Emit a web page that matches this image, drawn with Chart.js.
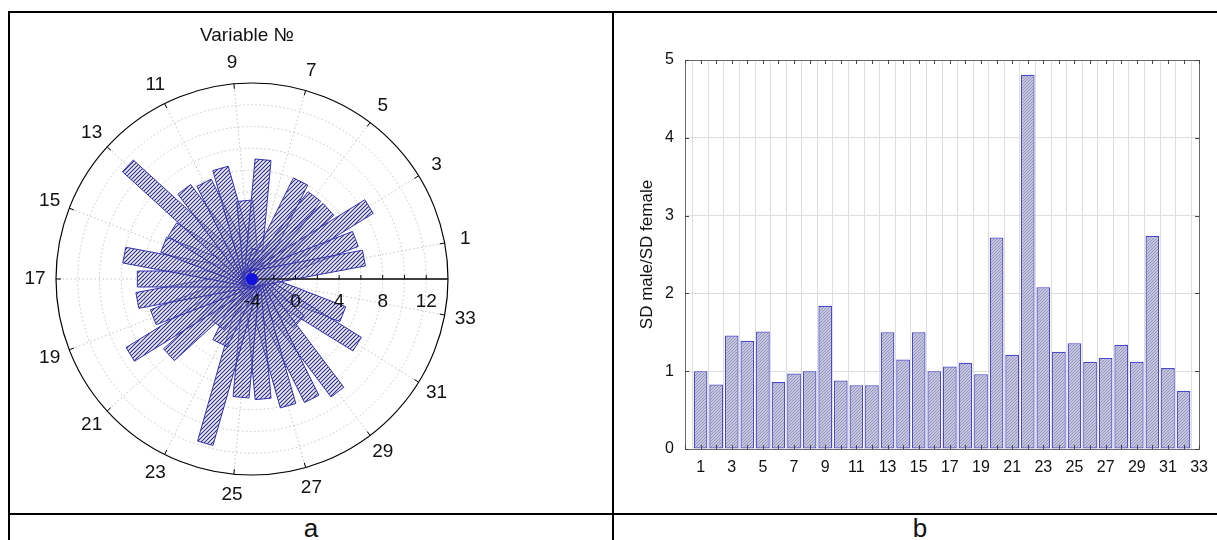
<!DOCTYPE html>
<html>
<head>
<meta charset="utf-8">
<script src="https://cdn.jsdelivr.net/npm/chart.js@4.4.0/dist/chart.umd.min.js"></script>
<style>
  html, body { margin: 0; padding: 0; background: #fff; }
  #wrap { position: relative; width: 1217px; height: 540px; overflow: hidden; background: #fff; font-family: "Liberation Sans", Arial, sans-serif; }
  .ln { position: absolute; background: #000; }
  .txt { position: absolute; color: #111; white-space: nowrap; }
  canvas { position: absolute; }
</style>
</head>
<body>
<div id="wrap">
  <div class="ln" style="left:8px;top:11px;width:1209px;height:2px"></div>
  <div class="ln" style="left:8px;top:11px;width:2px;height:529px"></div>
  <div class="ln" style="left:612px;top:11px;width:2px;height:529px"></div>
  <div class="ln" style="left:8px;top:513px;width:1209px;height:2px"></div>
  <canvas id="polar" width="602" height="500" style="left:10px;top:13px;width:602px;height:500px"></canvas>
  <canvas id="bars" width="603" height="500" style="left:614px;top:13px;width:603px;height:500px"></canvas>
  <div class="txt" style="left:10px;width:474px;top:24px;text-align:center;font-size:19px;line-height:22px">Variable №</div>
  <div class="txt" style="left:10px;width:602px;top:515px;text-align:center;font-size:26px;line-height:26px">a</div>
  <div class="txt" style="left:614px;width:612px;top:515px;text-align:center;font-size:26px;line-height:26px">b</div>
</div>
<script>
// ---------- data ----------
const polarVariables = [1, 2, 3, 4, 5, 6, 7, 8, 9, 10, 11, 12, 13, 14, 15, 16, 17,
                        18, 19, 20, 21, 22, 23, 24, 25, 26, 27, 28, 29, 30, 31, 32, 33];
const polarValues = [6.46, 6.18, 8.64, 5.5, 5.5, 6.0, -1.3, 7.0, 3.22, 6.56, 5.87, 6.32, 11.42,
                     4.6, 4.7, 7.93, 6.53, 6.71, 5.72, 9.15, 6.32, 1.26, 2.59, 11.68, 6.91,
                     7.06, 8.1, 8.3, 9.02, 1.83, 7.36, 4.94, -2.0];
const polarTickLabels = [-4, 0, 4, 8, 12];
const polarTitle = 'Variable №';

const barCategories = [1, 2, 3, 4, 5, 6, 7, 8, 9, 10, 11, 12, 13, 14, 15, 16,
                       17, 18, 19, 20, 21, 22, 23, 24, 25, 26, 27, 28, 29, 30, 31, 32];
const barValues = [1.0, 0.83, 1.46, 1.39, 1.51, 0.86, 0.97, 1.0, 1.84, 0.88, 0.82, 0.82,
                   1.5, 1.15, 1.5, 1.0, 1.06, 1.11, 0.96, 2.72, 1.21, 4.81, 2.08, 1.25,
                   1.36, 1.12, 1.17, 1.34, 1.12, 2.74, 1.04, 0.75];
const barTickLabels = [1, 3, 5, 7, 9, 11, 13, 15, 17, 19, 21, 23, 25, 27, 29, 31, 33];
const barYTitle = 'SD male/SD female';

// ---------- helpers ----------
const FONT = '"Liberation Sans", Arial, sans-serif';
function hatch(bg, fg, size, lw) {
  const c = document.createElement('canvas');
  c.width = c.height = size;
  const x = c.getContext('2d');
  if (bg) { x.fillStyle = bg; x.fillRect(0, 0, size, size); }
  x.strokeStyle = fg; x.lineWidth = lw;
  x.beginPath();
  x.moveTo(0, size); x.lineTo(size, 0);
  x.moveTo(-1, 1); x.lineTo(1, -1);
  x.moveTo(size - 1, size + 1); x.lineTo(size + 1, size - 1);
  x.stroke();
  return x.createPattern(c, 'repeat');
}

// ---------- polar (radar scale, bars drawn as rectangles from library points) ----------
// slot 0 sits on the horizontal axis; variable k sits at slot (34 - k)
const slotCount = polarVariables.length + 1;
const polarLabels = [''];
const polarData = [null];
for (let i = polarVariables.length - 1; i >= 0; i--) {
  polarLabels.push(String(polarVariables[i]));
  polarData.push(polarValues[i]);
}
const polarHatch = hatch('rgba(210,210,236,0.4)', '#2c2c82', 4, 1.05);
const OUTER = 14;

const polarDecor = {
  id: 'polarDecor',
  afterDatasetsDraw(chart) {
    const ctx = chart.ctx, r = chart.scales.r, meta = chart.getDatasetMeta(0);
    const cx = r.xCenter, cy = r.yCenter, hw = 8;
    ctx.save();
    meta.data.forEach((pt) => {
      if (pt.skip || isNaN(pt.x) || isNaN(pt.y)) return;
      const dx = pt.x - cx, dy = pt.y - cy, len = Math.hypot(dx, dy);
      if (len < 0.5) return;
      const nx = -dy / len * hw, ny = dx / len * hw;
      ctx.beginPath();
      ctx.moveTo(cx + nx, cy + ny);
      ctx.lineTo(pt.x + nx, pt.y + ny);
      ctx.lineTo(pt.x - nx, pt.y - ny);
      ctx.lineTo(cx - nx, cy - ny);
      ctx.closePath();
      ctx.fillStyle = polarHatch;
      ctx.fill();
      ctx.lineWidth = 1;
      ctx.strokeStyle = '#3434b0';
      ctx.stroke();
    });
    // axis line along slot 0
    const R = r.getDistanceFromCenterForValue(OUTER);
    ctx.strokeStyle = '#000';
    ctx.lineWidth = 1.2;
    ctx.beginPath();
    ctx.moveTo(cx, cy); ctx.lineTo(cx + R, cy);
    ctx.stroke();
    // axis ticks every 2 units
    ctx.lineWidth = 1;
    r.ticks.forEach(t => {
      if (t.value <= r.min || t.value >= OUTER) return;
      const d = r.getDistanceFromCenterForValue(t.value);
      ctx.beginPath();
      ctx.moveTo(cx + d, cy); ctx.lineTo(cx + d, cy - 4);
      ctx.stroke();
    });
    // center blob
    ctx.fillStyle = '#1212e0';
    ctx.beginPath(); ctx.arc(cx, cy, 6, 0, Math.PI * 2); ctx.fill();
    // radial tick labels
    ctx.fillStyle = '#111';
    ctx.font = '19px ' + FONT;
    ctx.textAlign = 'center';
    ctx.textBaseline = 'middle';
    polarTickLabels.forEach(v => {
      const d = r.getDistanceFromCenterForValue(v);
      ctx.fillText(String(v), cx + d, cy + 23);
    });
    // outer ticks and variable labels (odd variables)
    polarVariables.forEach(k => {
      if (k % 2 === 0) return;
      const idx = (slotCount - k) % slotCount;
      const p1 = r.getPointPosition(idx, R);
      const p0 = r.getPointPosition(idx, R - 5);
      ctx.strokeStyle = '#000';
      ctx.beginPath(); ctx.moveTo(p0.x, p0.y); ctx.lineTo(p1.x, p1.y); ctx.stroke();
      const pl = r.getPointPosition(idx, R + 21);
      ctx.fillText(String(k), pl.x, pl.y);
    });
    ctx.restore();
  }
};

new Chart(document.getElementById('polar'), {
  type: 'radar',
  data: {
    labels: polarLabels,
    datasets: [{
      label: polarTitle,
      data: polarData,
      showLine: false,
      fill: false,
      borderWidth: 0,
      pointRadius: 0,
      pointHoverRadius: 0,
      spanGaps: false
    }]
  },
  options: {
    responsive: false,
    animation: false,
    devicePixelRatio: 1,
    layout: { padding: { left: 46, top: 70, right: 164, bottom: 38 } },
    plugins: { legend: { display: false }, tooltip: { enabled: false }, title: { display: false } },
    scales: {
      r: {
        min: -4,
        max: OUTER,
        startAngle: 90,
        ticks: { display: false, stepSize: 2 },
        pointLabels: { display: false },
        grid: {
          circular: true,
          color: c => (c.tick && c.tick.value === OUTER) ? '#000' : '#c2c2c2',
          lineWidth: c => (c.tick && c.tick.value === OUTER) ? 1.2 : 1
        },
        border: { dash: c => (c.tick && c.tick.value === OUTER) ? [] : [1.5, 2.5] },
        angleLines: {
          display: true,
          color: c => c.index === 0 ? '#000' : '#c2c2c2',
          lineWidth: c => (c.index === 0 || c.index % 2 === 1) ? 1 : 0,
          borderDash: c => c.index === 0 ? [] : [1.5, 2.5]
        }
      }
    }
  },
  plugins: [polarDecor]
});

// ---------- bar chart ----------
const barHatch = hatch('#c6c6dc', '#9494c2', 3, 1);
const barDecor = {
  id: 'barDecor',
  afterDraw(chart) {
    const ctx = chart.ctx, a = chart.chartArea, xs = chart.scales.x, ys = chart.scales.y;
    ctx.save();
    ctx.strokeStyle = '#6a6a6a';
    ctx.lineWidth = 1;
    ctx.strokeRect(Math.round(a.left) + 0.5, Math.round(a.top) + 0.5,
                   Math.round(a.right - a.left), Math.round(a.bottom - a.top));
    ctx.strokeStyle = '#444';
    ctx.beginPath();
    xs.ticks.forEach(t => {
      const x = Math.round(xs.getPixelForValue(t.value)) + 0.5;
      ctx.moveTo(x, a.bottom); ctx.lineTo(x, a.bottom - 4);
      ctx.moveTo(x, a.top); ctx.lineTo(x, a.top + 4);
    });
    ys.ticks.forEach(t => {
      const y = Math.round(ys.getPixelForValue(t.value)) + 0.5;
      ctx.moveTo(a.left, y); ctx.lineTo(a.left + 4, y);
      ctx.moveTo(a.right, y); ctx.lineTo(a.right - 4, y);
    });
    ctx.stroke();
    ctx.restore();
  }
};

new Chart(document.getElementById('bars'), {
  type: 'bar',
  data: {
    datasets: [{
      label: barYTitle,
      data: barCategories.map((c, i) => ({ x: c, y: barValues[i] })),
      backgroundColor: barHatch,
      borderColor: '#4a4ac6',
      borderWidth: 1.3,
      borderSkipped: false,
      barPercentage: 0.88,
      categoryPercentage: 1.0
    }]
  },
  options: {
    responsive: false,
    animation: false,
    devicePixelRatio: 1,
    layout: { padding: { left: 0, top: 47, right: 13, bottom: 0 } },
    plugins: { legend: { display: false }, tooltip: { enabled: false } },
    scales: {
      x: {
        type: 'linear',
        min: 0,
        max: 33,
        offset: false,
        afterFit: s => { s.height = 64; },
        grid: { color: '#dedede', drawTicks: false },
        border: { display: false },
        ticks: {
          stepSize: 1,
          autoSkip: false,
          maxRotation: 0,
          padding: 9,
          color: '#111',
          font: { family: FONT, size: 16 },
          callback: v => barTickLabels.includes(v) ? String(v) : ''
        }
      },
      y: {
        min: 0,
        max: 5,
        afterFit: s => { s.width = 71; },
        grid: { color: '#dedede', drawTicks: false },
        border: { display: false },
        ticks: { stepSize: 1, padding: 11, color: '#111', font: { family: FONT, size: 16 } },
        title: {
          display: true,
          text: barYTitle,
          color: '#111',
          font: { family: FONT, size: 17 },
          padding: { top: 23, bottom: 0 }
        }
      }
    }
  },
  plugins: [barDecor]
});
</script>
</body>
</html>
